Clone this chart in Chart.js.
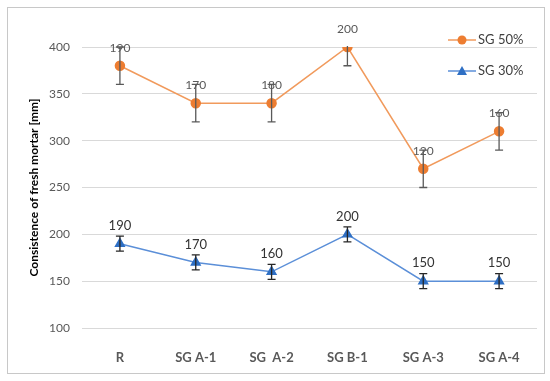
<!DOCTYPE html>
<html lang="en">
<head>
    <meta charset="UTF-8">
    <title>Consistence of fresh mortar</title>
    <script src="https://cdn.jsdelivr.net/npm/chart.js"></script>
    <style>
        body { margin: 0; background: #fff; }
        #wrap { width: 550px; height: 381px; position: relative; }
    </style>
</head>

<body>
    <div id="wrap"><canvas id="mortarChart"></canvas></div>

    <script>
        // Data
        const categories = ['R', 'SG A-1', 'SG  A-2', 'SG B-1', 'SG A-3', 'SG A-4'];
        const sg50Values = [380, 340, 340, 400, 270, 310];
        const sg50Labels = ['190', '170', '180', '200', '120', '160'];
        const sg50Err = [20, 20, 20, 20, 20, 20];
        const sg30Values = [190, 170, 160, 200, 150, 150];
        const sg30Labels = ['190', '170', '160', '200', '150', '150'];
        const sg30Err = [8, 8, 8, 8, 8, 8];
        const yTicks = [100, 150, 200, 250, 300, 350, 400];

        const FONT = 'Lato, "Open Sans", "Liberation Sans", sans-serif';

        // white background + thin frame
        const framePlugin = {
            id: 'frame',
            beforeDraw(chart) {
                const c = chart.ctx;
                c.save();
                c.fillStyle = '#fff';
                c.fillRect(0, 0, chart.width, chart.height);
                c.strokeStyle = '#c8c8c8';
                c.lineWidth = 1;
                c.strokeRect(7.5, 7.5, 537, 366);
                c.restore();
            }
        };

        // error bars and value labels
        const extrasPlugin = {
            id: 'extras',
            afterDatasetsDraw(chart) {
                const c = chart.ctx;
                const x = chart.scales.x, y = chart.scales.y;
                const area = chart.chartArea;
                chart.data.datasets.forEach((ds, i) => {
                    const errs = ds.errors;
                    c.save();
                    c.beginPath();
                    c.rect(area.left, area.top - 1, area.right - area.left, area.bottom - area.top + 2);
                    c.clip();
                    c.strokeStyle = ds.errColor;
                    c.lineWidth = 1.3;
                    ds.data.forEach((v, j) => {
                        const px = x.getPixelForValue(j);
                        const top = y.getPixelForValue(v + errs[j]);
                        const bot = y.getPixelForValue(v - errs[j]);
                        c.beginPath();
                        c.moveTo(px, top); c.lineTo(px, bot);
                        c.moveTo(px - 4, top); c.lineTo(px + 4, top);
                        c.moveTo(px - 4, bot); c.lineTo(px + 4, bot);
                        c.stroke();
                    });
                    c.restore();
                    c.save();
                    c.fillStyle = ds.labelColor;
                    c.font = ds.labelFont;
                    c.textAlign = 'center';
                    c.textBaseline = 'middle';
                    ds.data.forEach((v, j) => {
                        const px = x.getPixelForValue(j);
                        c.fillText(ds.valueLabels[j], px, y.getPixelForValue(v) - 18);
                    });
                    c.restore();
                });
            }
        };

        // legend drawn in the upper right corner of the plot
        const legendPlugin = {
            id: 'cornerLegend',
            afterDraw(chart) {
                const c = chart.ctx;
                const rows = [[0, 40], [1, 71]];
                rows.forEach(([i, ly]) => {
                    const ds = chart.data.datasets[i];
                    c.save();
                    c.strokeStyle = ds.borderColor;
                    c.lineWidth = 1.5;
                    c.beginPath();
                    c.moveTo(448, ly); c.lineTo(476, ly);
                    c.stroke();
                    c.fillStyle = ds.pointBackgroundColor;
                    c.beginPath();
                    if (ds.pointStyle === 'triangle') {
                        c.moveTo(462, ly - 5); c.lineTo(467, ly + 4); c.lineTo(457, ly + 4);
                    } else {
                        c.arc(462, ly, 4.5, 0, Math.PI * 2);
                    }
                    c.closePath();
                    c.fill();
                    c.fillStyle = '#404040';
                    c.font = '13px ' + FONT;
                    c.textBaseline = 'middle';
                    c.fillText(ds.label, 478, ly);
                    c.restore();
                });
            }
        };

        const ctx = document.getElementById('mortarChart').getContext('2d');
        const mortarChart = new Chart(ctx, {
            type: 'line',
            data: {
                labels: categories,
                datasets: [{
                    label: 'SG 50%',
                    data: sg50Values,
                    errors: sg50Err,
                    valueLabels: sg50Labels,
                    errColor: '#595959',
                    labelColor: '#595959',
                    labelFont: '12px ' + FONT,
                    borderColor: '#f19a5c',
                    borderWidth: 1.5,
                    pointStyle: 'circle',
                    pointRadius: 4.5,
                    pointBackgroundColor: '#ed7d31',
                    pointBorderColor: '#ed7d31',
                    tension: 0
                }, {
                    label: 'SG 30%',
                    data: sg30Values,
                    errors: sg30Err,
                    valueLabels: sg30Labels,
                    errColor: '#262626',
                    labelColor: '#333333',
                    labelFont: '13px ' + FONT,
                    borderColor: '#5b8fd8',
                    borderWidth: 1.5,
                    pointStyle: 'triangle',
                    pointRadius: 5,
                    pointBackgroundColor: '#2e6fc4',
                    pointBorderColor: '#2e6fc4',
                    tension: 0
                }]
            },
            options: {
                responsive: true,
                maintainAspectRatio: false,
                animation: false,
                layout: { padding: { left: 0, top: 47, right: 13, bottom: 0 } },
                plugins: {
                    legend: { display: false },
                    tooltip: { enabled: false }
                },
                scales: {
                    x: {
                        offset: true,
                        grid: { display: false },
                        border: { display: false },
                        ticks: {
                            color: '#595959',
                            font: { family: FONT, size: 13, weight: 'bold' },
                            padding: 14
                        },
                        afterFit(scale) { scale.height = 53; }
                    },
                    y: {
                        min: 100,
                        max: 400,
                        afterBuildTicks(scale) { scale.ticks = yTicks.map(v => ({ value: v })); },
                        grid: { color: '#d9d9d9', drawTicks: false, lineWidth: 1 },
                        border: { display: false },
                        ticks: {
                            color: '#595959',
                            font: { family: FONT, size: 12 },
                            padding: 12
                        },
                        title: {
                            display: true,
                            text: 'Consistence of fresh mortar [mm]',
                            color: '#000',
                            font: { family: FONT, size: 12, weight: 'bold' },
                            padding: { top: 27, bottom: 0 }
                        },
                        afterFit(scale) { scale.width = 82; }
                    }
                }
            },
            plugins: [framePlugin, extrasPlugin, legendPlugin]
        });
    </script>
</body>
</html>
